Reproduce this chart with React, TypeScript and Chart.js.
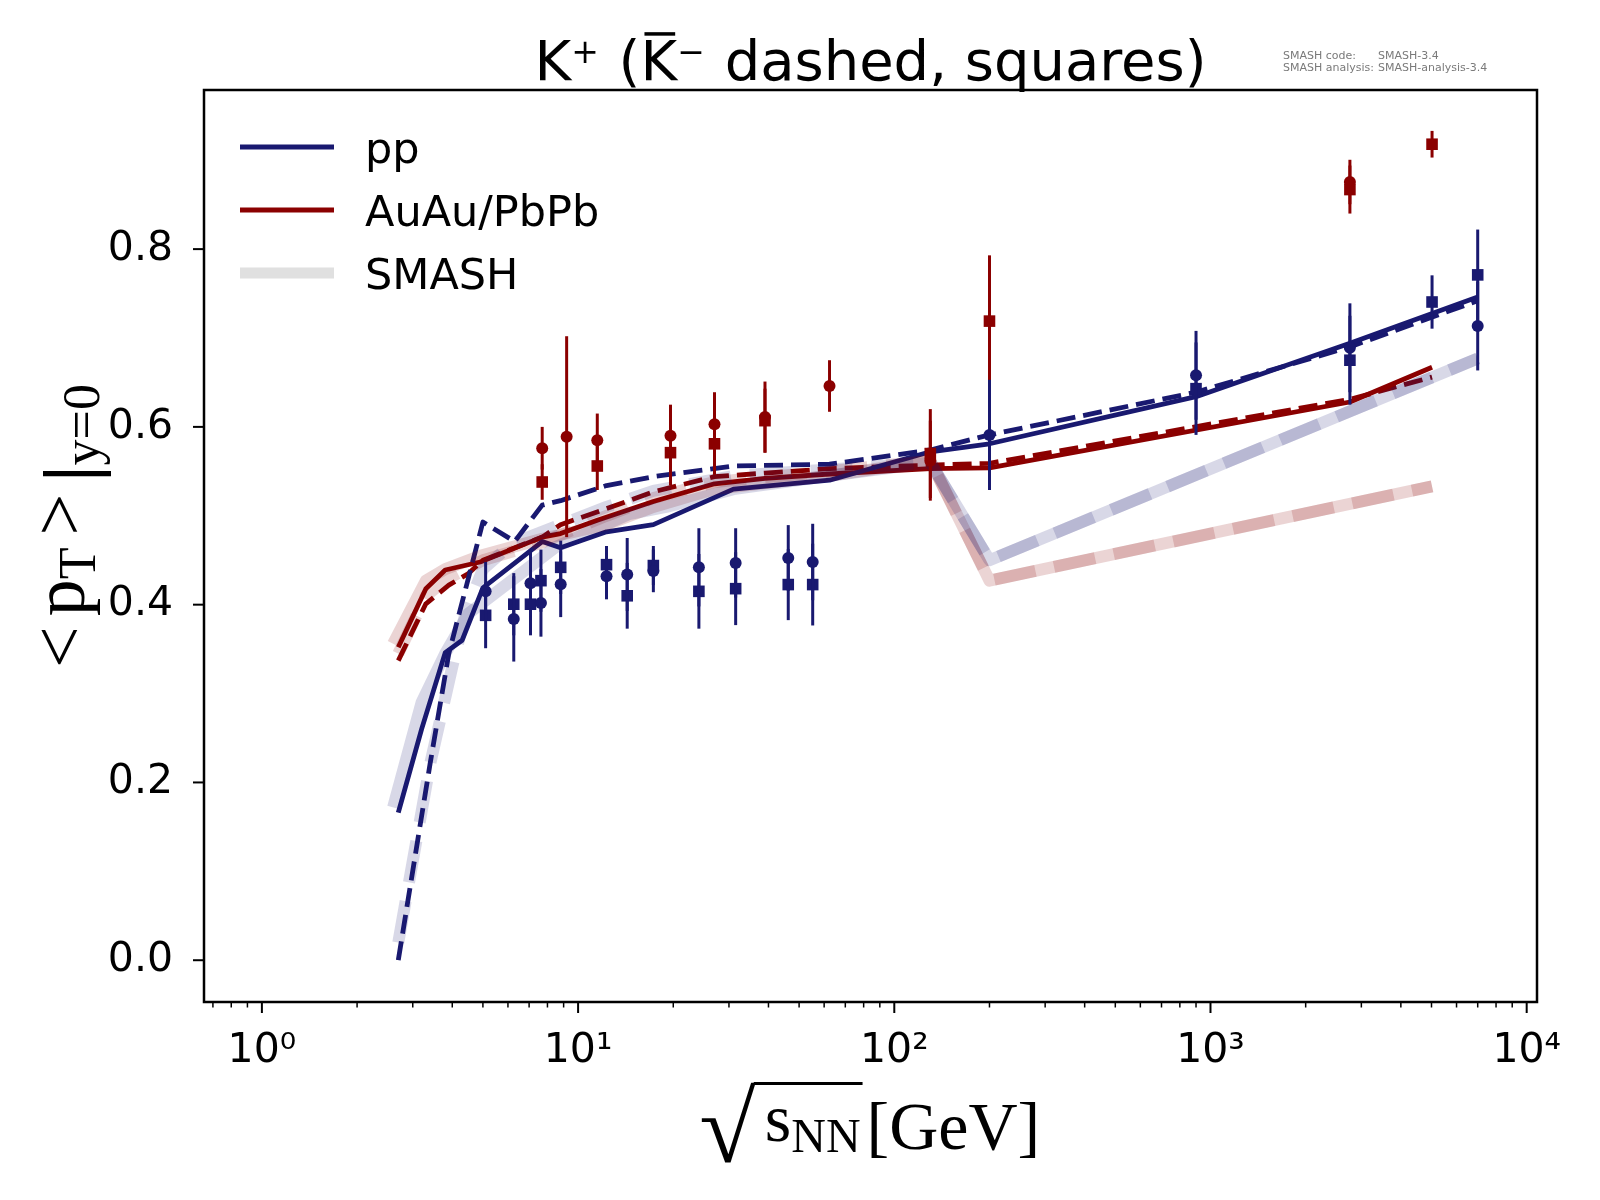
import React, { useEffect, useRef } from "react";
import { Chart, registerables } from "chart.js";

Chart.register(...registerables);

const NAVY = "#191970";
const DARKRED = "#8b0000";
const NAVY_SMASH = "rgba(25, 25, 112, 0.17)";
const RED_SMASH = "rgba(139, 0, 0, 0.17)";

// axis ranges (sqrt(s_NN) in GeV, <pT> in GeV)
const xMin = 0.656;
const xMax = 10780;
const yMin = -0.047;
const yMax = 0.979;
const yTickValues = [0, 0.2, 0.4, 0.6, 0.8];
const xTickLabels: Record<number, string> = { 0: "10⁰", 1: "10¹", 2: "10²", 3: "10³", 4: "10⁴" };

// model curves: pp
const ppPlusX = [2.7, 3.2, 3.8, 4.3, 5.0, 7.7, 8.8, 12.3, 17.3, 31, 62.4, 130, 200, 900, 2760, 7000];
const ppPlusY = [0.166, 0.26, 0.346, 0.36, 0.419, 0.471, 0.464, 0.482, 0.49, 0.53, 0.54, 0.572, 0.581, 0.634, 0.694, 0.746];
const ppMinusX = [2.7, 3.4, 3.9, 4.5, 5.0, 6.3, 7.7, 8.8, 12.3, 17.3, 31, 62.4, 130, 200, 900, 2760, 7000];
const ppMinusY = [0.0, 0.22, 0.345, 0.43, 0.493, 0.471, 0.512, 0.517, 0.534, 0.544, 0.556, 0.558, 0.574, 0.591, 0.639, 0.69, 0.742];

// model curves: AuAu/PbPb
const aaPlusX = [2.7, 3.3, 3.8, 4.9, 7.7, 8.8, 11.5, 17.3, 27, 39, 62.4, 130, 200, 2760, 5020];
const aaPlusY = [0.352, 0.418, 0.439, 0.448, 0.476, 0.48, 0.495, 0.516, 0.536, 0.542, 0.547, 0.553, 0.554, 0.628, 0.667];
const aaMinusX = [2.7, 3.3, 3.9, 4.5, 5.0, 7.7, 8.8, 12.3, 17.3, 27, 39, 62.4, 130, 200, 2760, 5020];
const aaMinusY = [0.337, 0.401, 0.422, 0.435, 0.45, 0.476, 0.49, 0.508, 0.527, 0.544, 0.548, 0.553, 0.557, 0.559, 0.631, 0.656];

// SMASH bands
const smashPpPlusX = [2.6, 3.2, 3.8, 4.5, 8.5, 14.5, 19, 31, 62.4, 130, 200, 7000];
const smashPpPlusY = [0.172, 0.29, 0.345, 0.39, 0.465, 0.502, 0.51, 0.53, 0.545, 0.56, 0.45, 0.677];
const smashPpMinusX = [2.7, 3.4, 4.0, 4.4, 5.0, 6.2, 8.8, 12.3, 17.3, 31, 62.4, 130, 200, 7000];
const smashPpMinusY = [0.02, 0.22, 0.33, 0.39, 0.44, 0.469, 0.49, 0.51, 0.528, 0.545, 0.552, 0.56, 0.45, 0.677];
const smashAaPlusX = [2.6, 3.3, 3.8, 4.9, 7.7, 12.3, 17.3, 27, 62.4, 130, 200, 5020];
const smashAaPlusY = [0.356, 0.427, 0.44, 0.455, 0.474, 0.49, 0.51, 0.53, 0.545, 0.562, 0.427, 0.533];
const smashAaMinusX = [2.7, 3.3, 3.9, 5.0, 7.7, 12.3, 17.3, 27, 62.4, 130, 200, 5020];
const smashAaMinusY = [0.345, 0.41, 0.43, 0.45, 0.47, 0.5, 0.52, 0.538, 0.55, 0.562, 0.427, 0.533];

// measured data: pp (circles K+, squares K-)
const ppCircleX = [5.1, 6.26, 7.07, 7.63, 8.81, 12.3, 14.3, 17.3, 24.1, 31.5, 46.2, 55.2, 200, 900, 2760, 7000];
const ppCircleY = [0.415, 0.384, 0.424, 0.402, 0.423, 0.432, 0.434, 0.438, 0.442, 0.447, 0.4525, 0.448, 0.591, 0.658, 0.689, 0.7135];
const ppCircleErr = [0.033, 0.048, 0.037, 0.038, 0.037, 0.026, 0.041, 0.024, 0.044, 0.039, 0.037, 0.043, 0.062, 0.05, 0.05, 0.05];
const ppSquareX = [5.1, 6.26, 7.07, 7.63, 8.81, 12.3, 14.3, 17.3, 24.1, 31.5, 46.2, 55.2, 900, 2760, 5020, 7000];
const ppSquareY = [0.388, 0.4005, 0.4005, 0.427, 0.442, 0.445, 0.41, 0.444, 0.415, 0.418, 0.4226, 0.4226, 0.643, 0.675, 0.7405, 0.771];
const ppSquareErr = [0.037, 0.035, 0.035, 0.035, 0.03, 0.021, 0.037, 0.022, 0.042, 0.041, 0.04, 0.046, 0.052, 0.05, 0.03, 0.051];

// measured data: AuAu/PbPb
const aaCircleX = [7.7, 9.2, 11.5, 19.6, 27, 39, 62.4, 130, 2760];
const aaCircleY = [0.576, 0.589, 0.585, 0.59, 0.603, 0.611, 0.646, 0.562, 0.8755];
const aaCircleErr = [0.024, 0.113, 0.03, 0.035, 0.036, 0.04, 0.029, 0.045, 0.025];
const aaSquareX = [7.7, 11.5, 19.6, 27, 39, 130, 200, 2760, 5020];
const aaSquareY = [0.538, 0.556, 0.571, 0.581, 0.607, 0.57, 0.719, 0.867, 0.918];
const aaSquareErr = [0.02, 0.027, 0.037, 0.035, 0.036, 0.05, 0.074, 0.027, 0.015];

const legendItems = [
  { label: "pp", color: NAVY, width: 4.8 },
  { label: "AuAu/PbPb", color: DARKRED, width: 4.8 },
  { label: "SMASH", color: "#e0e0e0", width: 11 },
];

const pts = (xs: number[], ys: number[]) => xs.map((x, i) => ({ x, y: ys[i] }));

const lineSet = (xs: number[], ys: number[], color: string, width: number, dash: number[], order: number) => ({
  data: pts(xs, ys),
  borderColor: color,
  borderWidth: width,
  borderDash: dash,
  borderJoinStyle: "round",
  pointRadius: 0,
  pointHoverRadius: 0,
  fill: false,
  tension: 0,
  order,
});

const markerSet = (xs: number[], ys: number[], errs: number[], color: string, style: string) => ({
  data: pts(xs, ys),
  errors: errs,
  showLine: false,
  pointStyle: style,
  pointRadius: style === "rect" ? 8.2 : 6,
  pointHoverRadius: style === "rect" ? 8.2 : 6,
  pointBackgroundColor: color,
  pointBorderWidth: 0,
  borderColor: color,
  order: 1,
});

type Run = { t: string; size: number; family: string; dy?: number; gap?: number; weight?: string };

const fontOf = (r: Run) => `${r.weight ? r.weight + " " : ""}${r.size}px ${r.family}`;

function runsWidth(ctx: CanvasRenderingContext2D, runs: Run[]) {
  let w = 0;
  for (const r of runs) {
    ctx.font = fontOf(r);
    w += ctx.measureText(r.t).width + (r.gap || 0);
  }
  return w;
}

function drawRuns(ctx: CanvasRenderingContext2D, runs: Run[], x0: number, baseline: number) {
  let x = x0;
  ctx.textAlign = "left";
  ctx.textBaseline = "alphabetic";
  for (const r of runs) {
    ctx.font = fontOf(r);
    ctx.fillText(r.t, x, baseline + (r.dy || 0));
    x += ctx.measureText(r.t).width + (r.gap || 0);
  }
  return x;
}

const SANS = '"DejaVu Sans"';
const SERIF = '"Liberation Serif"';

const chromePlugin = {
  id: "chrome",
  beforeDatasetDraw(chart: any, args: any) {
    const ds = chart.data.datasets[args.index];
    if (!ds.errors) return;
    const { ctx, scales } = chart;
    ctx.save();
    ctx.strokeStyle = ds.pointBackgroundColor;
    ctx.lineWidth = 3;
    ds.data.forEach((p: any, i: number) => {
      const px = scales.x.getPixelForValue(p.x);
      ctx.beginPath();
      ctx.moveTo(px, scales.y.getPixelForValue(p.y - ds.errors[i]));
      ctx.lineTo(px, scales.y.getPixelForValue(p.y + ds.errors[i]));
      ctx.stroke();
    });
    ctx.restore();
  },
  afterDraw(chart: any) {
    const { ctx, chartArea: a, scales } = chart;
    ctx.save();

    // frame
    ctx.strokeStyle = "#000";
    ctx.lineWidth = 2.5;
    ctx.strokeRect(a.left, a.top, a.right - a.left, a.bottom - a.top);

    // y ticks
    ctx.lineWidth = 2;
    yTickValues.forEach((v) => {
      const py = scales.y.getPixelForValue(v);
      ctx.beginPath();
      ctx.moveTo(a.left - 11, py);
      ctx.lineTo(a.left, py);
      ctx.stroke();
    });

    // x ticks, major and minor
    for (let e = -1; e <= 4; e++) {
      for (let m = 1; m <= 9; m++) {
        const v = m * Math.pow(10, e);
        if (v < xMin || v > xMax) continue;
        const px = scales.x.getPixelForValue(v);
        ctx.lineWidth = m === 1 ? 2 : 1.5;
        ctx.beginPath();
        ctx.moveTo(px, a.bottom);
        ctx.lineTo(px, a.bottom + (m === 1 ? 11 : 5.5));
        ctx.stroke();
      }
    }

    ctx.fillStyle = "#000";
    const cx = (a.left + a.right) / 2;

    // title
    const tSize = 56;
    const title: Run[] = [
      { t: "K", size: tSize, family: SANS },
      { t: "+", size: 33, family: SANS, dy: -17, gap: 2 },
      { t: " (", size: tSize, family: SANS },
      { t: "K", size: tSize, family: SANS },
      { t: "\u2212", size: 33, family: SANS, dy: -17, gap: 2 },
      { t: " dashed, squares)", size: tSize, family: SANS },
    ];
    const tx0 = cx - runsWidth(ctx, title) / 2;
    drawRuns(ctx, title, tx0, 80);
    // bar over the second K
    const preBar = runsWidth(ctx, title.slice(0, 3));
    ctx.font = `${tSize}px ${SANS}`;
    const kw = ctx.measureText("K").width;
    ctx.fillRect(tx0 + preBar + 4, 80 - tSize * 0.729 - 7, kw - 6, 3.5);

    // SMASH version note
    ctx.fillStyle = "#7a7a7a";
    ctx.font = `11px ${SANS}`;
    ctx.fillText("SMASH code:", 1283, 59);
    ctx.fillText("SMASH-3.4", 1378, 59);
    ctx.fillText("SMASH analysis:", 1283, 71);
    ctx.fillText("SMASH-analysis-3.4", 1378, 71);

    // legend
    legendItems.forEach((it, i) => {
      const ly = 147 + i * 63;
      ctx.strokeStyle = it.color;
      ctx.lineWidth = it.width;
      ctx.lineCap = "butt";
      ctx.beginPath();
      ctx.moveTo(240, ly);
      ctx.lineTo(334, ly);
      ctx.stroke();
      ctx.fillStyle = "#000";
      ctx.font = `43px ${SANS}`;
      ctx.textAlign = "left";
      ctx.textBaseline = "alphabetic";
      ctx.fillText(it.label, 365, ly + 16);
    });

    // y axis title
    ctx.fillStyle = "#000";
    const ylab: Run[] = [
      { t: "<", size: 74, family: SERIF, gap: 10 },
      { t: "p", size: 74, family: SERIF },
      { t: "T", size: 52, family: SERIF, dy: 11, gap: 12 },
      { t: ">", size: 74, family: SERIF, gap: 12 },
      { t: "|", size: 74, family: SERIF, weight: "bold", dy: 11 },
      { t: "y=0", size: 52, family: SERIF, dy: 15 },
    ];
    ctx.save();
    ctx.translate(84, 526);
    ctx.rotate(-Math.PI / 2);
    drawRuns(ctx, ylab, -runsWidth(ctx, ylab) / 2, 0);
    ctx.restore();

    // x axis title: sqrt(s_NN) [GeV]
    const base = 1149;
    const sRuns: Run[] = [
      { t: "s", size: 68, family: SERIF, dy: -8 },
      { t: "NN", size: 48, family: SERIF, dy: 3 },
    ];
    const gevRuns: Run[] = [{ t: "[GeV]", size: 68, family: SERIF }];
    const radW = 56;
    const total = radW + 8 + runsWidth(ctx, sRuns) + 6 + runsWidth(ctx, gevRuns);
    const x0 = cx - total / 2;
    ctx.font = `68px ${SERIF}`;
    const m = ctx.measureText("\u221a");
    const gh = m.actualBoundingBoxAscent + m.actualBoundingBoxDescent;
    const gw = m.actualBoundingBoxLeft + m.actualBoundingBoxRight;
    const top = 1082;
    const bottom = 1163;
    const sy = (bottom - top) / gh;
    const sx = radW / gw;
    ctx.save();
    ctx.translate(x0 + m.actualBoundingBoxLeft * sx, top + m.actualBoundingBoxAscent * sy);
    ctx.scale(sx, sy);
    ctx.fillText("\u221a", 0, 0);
    ctx.restore();
    const sStart = x0 + radW + 8;
    const sEnd = drawRuns(ctx, sRuns, sStart, base);
    ctx.fillRect(x0 + radW - 3, top, sEnd - (x0 + radW - 3) + 2, 3);
    drawRuns(ctx, gevRuns, sEnd + 6, base);

    ctx.restore();
  },
};

const App: React.FC = () => {
  const canvasRef = useRef<HTMLCanvasElement | null>(null);

  useEffect(() => {
    const ctx = canvasRef.current?.getContext("2d");
    if (!ctx) return;

    const datasets: any[] = [
      // model lines (bottom)
      lineSet(ppPlusX, ppPlusY, NAVY, 4.8, [], 3),
      lineSet(ppMinusX, ppMinusY, NAVY, 4.8, [19, 8], 3),
      lineSet(aaPlusX, aaPlusY, DARKRED, 4.8, [], 3),
      lineSet(aaMinusX, aaMinusY, DARKRED, 4.8, [19, 8], 3),
      // SMASH bands
      lineSet(smashPpPlusX, smashPpPlusY, NAVY_SMASH, 12, [], 2),
      lineSet(smashPpMinusX, smashPpMinusY, NAVY_SMASH, 12, [42, 19], 2),
      lineSet(smashAaPlusX, smashAaPlusY, RED_SMASH, 12, [], 2),
      lineSet(smashAaMinusX, smashAaMinusY, RED_SMASH, 12, [42, 19], 2),
      // data
      markerSet(ppCircleX, ppCircleY, ppCircleErr, NAVY, "circle"),
      markerSet(ppSquareX, ppSquareY, ppSquareErr, NAVY, "rect"),
      markerSet(aaCircleX, aaCircleY, aaCircleErr, DARKRED, "circle"),
      markerSet(aaSquareX, aaSquareY, aaSquareErr, DARKRED, "rect"),
    ];

    const chart = new Chart(ctx, {
      type: "line",
      data: { datasets },
      options: {
        responsive: false,
        animation: false,
        events: [],
        layout: { padding: { top: 90, right: 63, left: 0, bottom: 0 } },
        scales: {
          x: {
            type: "logarithmic",
            min: xMin,
            max: xMax,
            grid: { display: false, drawTicks: false },
            border: { display: false },
            afterFit: (scale: any) => {
              scale.height = 198;
            },
            ticks: {
              autoSkip: false,
              maxRotation: 0,
              minRotation: 0,
              padding: 25,
              color: "#000",
              font: { family: "DejaVu Sans", size: 41 },
              callback: (value: any) => {
                const l = Math.log10(Number(value));
                const r = Math.round(l);
                return Math.abs(l - r) < 1e-6 && xTickLabels[r] ? xTickLabels[r] : "";
              },
            },
          },
          y: {
            type: "linear",
            min: yMin,
            max: yMax,
            grid: { display: false, drawTicks: false },
            border: { display: false },
            afterFit: (scale: any) => {
              scale.width = 204;
            },
            ticks: {
              stepSize: 0.2,
              includeBounds: false,
              padding: 31,
              color: "#000",
              font: { family: "DejaVu Sans", size: 41 },
              callback: (value: any) => {
                const v = Number(value);
                return yTickValues.some((t) => Math.abs(t - v) < 1e-6) ? v.toFixed(1) : "";
              },
            },
          },
        },
        plugins: {
          legend: { display: false },
          tooltip: { enabled: false },
          title: { display: false },
        },
      },
      plugins: [chromePlugin],
    } as any);

    return () => {
      chart.destroy();
    };
  }, []);

  return (
    <div style={{ position: "absolute", left: 0, top: 0, width: 1600, height: 1200, background: "#fff" }}>
      <canvas ref={canvasRef} width={1600} height={1200} style={{ display: "block" }} />
    </div>
  );
};

export default App;
